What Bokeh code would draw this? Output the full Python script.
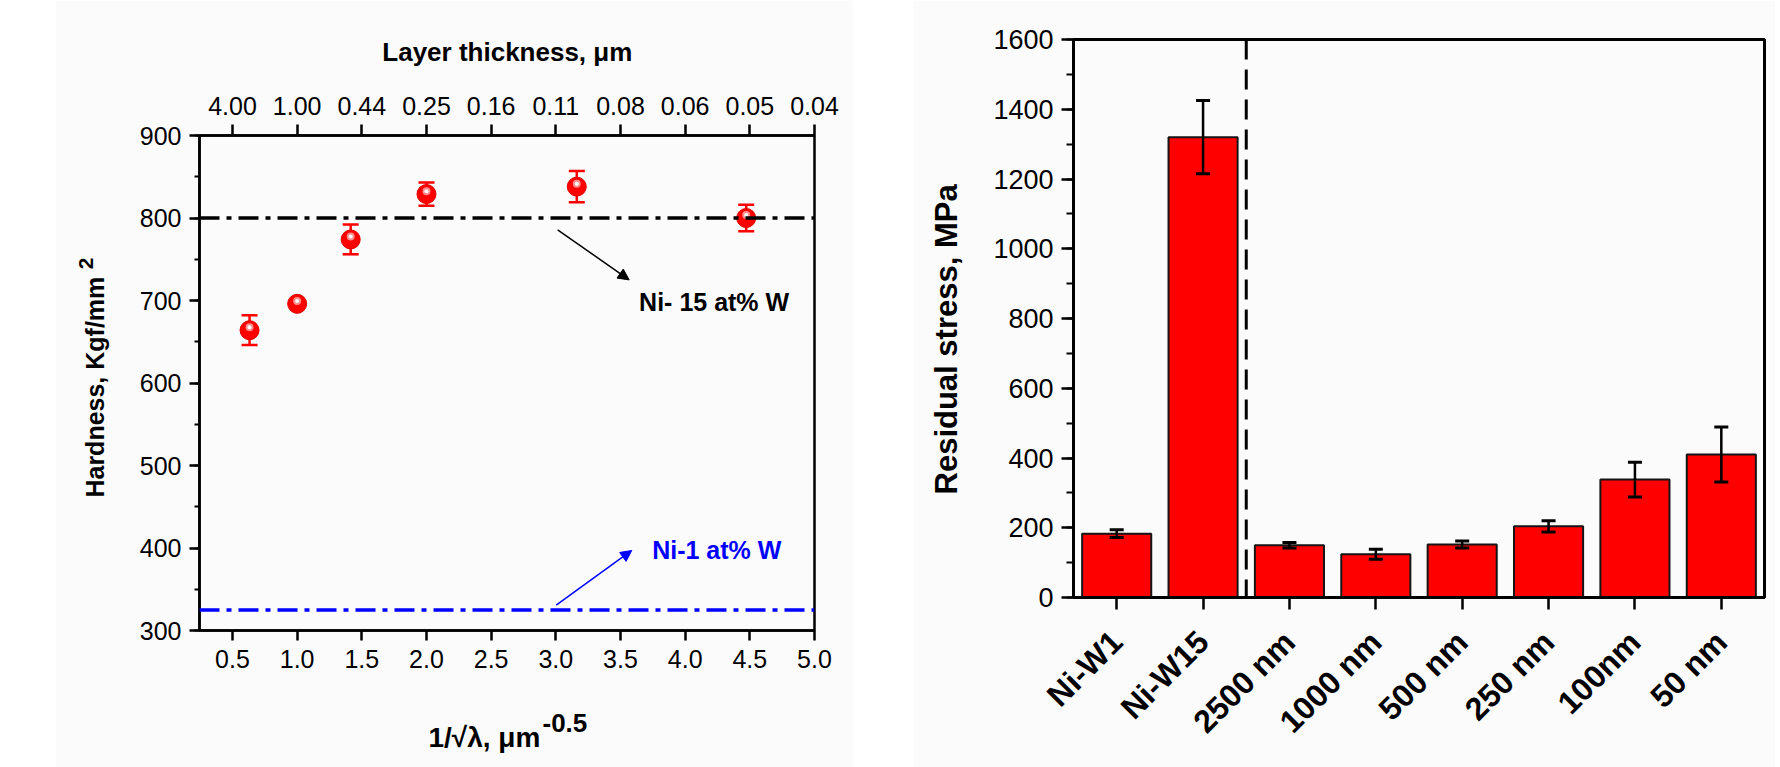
from math import pi
from bokeh.plotting import figure
from bokeh.models import (ColumnDataSource, Range1d, FixedTicker, LinearAxis, Label, Span,
                          Arrow, NormalHead, Whisker, TeeHead, NumeralTickFormatter,
                          SingleIntervalTicker, Spacer)
from bokeh.layouts import row
from bokeh.embed import file_html
from bokeh.resources import INLINE

# ---------------- data: left panel (hardness) ----------------
inv_sqrt_lambda = [0.632, 1.0, 1.414, 2.0, 3.162, 4.472]
hardness = [664, 696, 774, 829, 838, 800]
hardness_err = [18, 3, 18, 14, 19, 16]
ni15_hardness = 800
ni1_hardness = 325
bottom_ticks = [0.5, 1.0, 1.5, 2.0, 2.5, 3.0, 3.5, 4.0, 4.5, 5.0]
top_tick_labels = ["4.00", "1.00", "0.44", "0.25", "0.16", "0.11", "0.08", "0.06", "0.05", "0.04"]

# ---------------- data: right panel (residual stress) ----------------
samples = ["Ni-W1", "Ni-W15", "2500 nm", "1000 nm", "500 nm", "250 nm", "100nm", "50 nm"]
stress = [183, 1320, 150, 124, 152, 204, 338, 410]
stress_err = [11, 105, 8, 14, 10, 16, 50, 79]

FONT = "Liberation Sans"
BG = "#FBFBFB"


def dlabel(text, x, y, size, **kw):
    """Title-like label positioned in data units (kept in a side panel so it is not clipped)."""
    return Label(x=x, y=y, text=text, text_font=FONT, text_font_size=size,
                 text_font_style="bold", text_color="black", **kw)


# ======================= LEFT PANEL =======================
p1 = figure(width=798, height=767, x_range=Range1d(0.245, 5.0), y_range=Range1d(300, 900),
            output_backend="svg", toolbar_location=None, frame_align=False,
            min_border_left=144, min_border_right=39, min_border_top=135, min_border_bottom=137,
            background_fill_color=BG, border_fill_color=BG,
            outline_line_color="black", outline_line_width=2.5)
p1.grid.visible = False

xa = p1.xaxis[0]
xa.ticker = FixedTicker(ticks=bottom_ticks)
xa.formatter = NumeralTickFormatter(format="0.0")
ya = p1.yaxis[0]
ya.ticker = SingleIntervalTicker(interval=100, num_minor_ticks=2)

top_axis = LinearAxis(ticker=FixedTicker(ticks=bottom_ticks),
                      major_label_overrides={t: s for t, s in zip(bottom_ticks, top_tick_labels)})
p1.add_layout(top_axis, "above")

for ax in (xa, ya, top_axis):
    ax.axis_line_width = 2.5
    ax.axis_line_color = "black"
    ax.major_tick_line_width = 2.5
    ax.minor_tick_line_width = 2
    ax.major_tick_in = 0
    ax.minor_tick_in = 0
    ax.major_tick_out = 10
    ax.minor_tick_out = 5
    ax.major_label_text_font = FONT
    ax.major_label_text_font_size = "25px"
    ax.major_label_text_color = "black"
xa.minor_tick_out = 0
top_axis.minor_tick_out = 0
top_axis.major_tick_out = 11
xa.major_label_standoff = 9
top_axis.major_label_standoff = 10
ya.major_label_standoff = 8

# reference lines
p1.add_layout(Span(location=ni15_hardness, dimension="width", line_color="black",
                   line_dash="20 7 5 7", line_width=3.5))
p1.add_layout(Span(location=ni1_hardness, dimension="width", line_color="#0000FF",
                   line_dash="20 7 5 7", line_width=3.5))

src1 = ColumnDataSource(dict(
    x=inv_sqrt_lambda, y=hardness,
    upper=[h + e for h, e in zip(hardness, hardness_err)],
    lower=[h - e for h, e in zip(hardness, hardness_err)],
    hy=[h + 3.5 for h in hardness],
))
w1 = Whisker(source=src1, base="x", upper="upper", lower="lower", dimension="height",
             line_color="#FF0000", line_width=2.5, level="underlay",
             upper_head=TeeHead(size=16, line_color="#FF0000", line_width=2.5),
             lower_head=TeeHead(size=16, line_color="#FF0000", line_width=2.5))
p1.add_layout(w1)
p1.scatter("x", "y", source=src1, size=19, fill_color="#FF0000", line_color="#E00000", line_width=1)
p1.scatter("x", "hy", source=src1, size=8, fill_color="#FF8C8C", line_color=None)
p1.scatter("x", "hy", source=src1, size=4, fill_color="#FFFFFF", line_color=None)

# annotations
p1.add_layout(Arrow(x_start=3.014, y_start=785.7, x_end=3.567, y_end=725,
                    line_color="black", line_width=1.5,
                    end=NormalHead(size=11, fill_color="black", line_color="black")))
p1.add_layout(Arrow(x_start=3.003, y_start=330.7, x_end=3.587, y_end=397,
                    line_color="#0000FF", line_width=1.5,
                    end=NormalHead(size=11, fill_color="#0000FF", line_color="#0000FF")))
p1.add_layout(Label(x=3.644, y=697.9, text="Ni- 15 at% W", text_font=FONT, text_font_size="25px",
                    text_font_style="bold", text_color="black", text_baseline="alphabetic"))
p1.add_layout(Label(x=3.745, y=397, text="Ni-1 at% W", text_font=FONT, text_font_size="25px",
                    text_font_style="bold", text_color="#0000FF", text_baseline="alphabetic"))

# axis titles (data-positioned, placed in side panels so they are drawn outside the frame)
p1.add_layout(dlabel("Layer thickness, μm", 2.625, 1001, "26px",
                     text_align="center", text_baseline="alphabetic"), "above")
p1.add_layout(dlabel("1/√λ, μm", 2.88, 170.7, "28px",
                     text_align="right", text_baseline="alphabetic"), "below")
p1.add_layout(dlabel("-0.5", 2.897, 187.3, "26px",
                     text_align="left", text_baseline="alphabetic"), "below")
p1.add_layout(dlabel("Hardness, Kgf/mm", -0.56, 595, "25px", angle=pi / 2,
                     text_align="center", text_baseline="middle"), "left")
p1.add_layout(dlabel("2", -0.635, 738, "21px", angle=pi / 2,
                     text_align="left", text_baseline="middle"), "left")

# ======================= RIGHT PANEL =======================
xs = [i + 0.5 for i in range(len(samples))]
p2 = figure(width=862, height=767, x_range=Range1d(0, len(samples)), y_range=Range1d(0, 1600),
            output_backend="svg", toolbar_location=None, frame_align=False,
            min_border_left=160, min_border_right=11, min_border_top=39, min_border_bottom=170,
            background_fill_color=BG, border_fill_color=BG,
            outline_line_color="black", outline_line_width=3)
p2.grid.visible = False

src2 = ColumnDataSource(dict(
    x=xs, top=stress,
    upper=[s + e for s, e in zip(stress, stress_err)],
    lower=[s - e for s, e in zip(stress, stress_err)],
))
p2.vbar(x="x", top="top", bottom=0, width=0.8, source=src2,
        fill_color="#FF0000", line_color="#151515", line_width=2)
p2.add_layout(Whisker(source=src2, base="x", upper="upper", lower="lower", dimension="height",
                      line_color="black", line_width=2.5, level="annotation",
                      upper_head=TeeHead(size=14, line_color="black", line_width=3),
                      lower_head=TeeHead(size=14, line_color="black", line_width=3)))
p2.add_layout(Span(location=2, dimension="height", line_color="black",
                   line_dash="20 10", line_width=3))

xb = p2.xaxis[0]
xb.ticker = FixedTicker(ticks=xs)
xb.major_label_overrides = {x: s for x, s in zip(xs, samples)}
xb.major_label_orientation = pi / 4
xb.major_label_text_font_size = "32px"
xb.major_label_text_font_style = "bold"
xb.major_label_standoff = 27
xb.minor_tick_out = 0
yb = p2.yaxis[0]
yb.ticker = SingleIntervalTicker(interval=200, num_minor_ticks=2)
yb.major_label_text_font_size = "27px"
yb.major_label_standoff = 8
yb.minor_tick_out = 7
for ax in (xb, yb):
    ax.axis_line_width = 3
    ax.axis_line_color = "black"
    ax.major_tick_line_width = 2.5
    ax.minor_tick_line_width = 2
    ax.major_tick_in = 0
    ax.minor_tick_in = 0
    ax.major_tick_out = 12
    ax.major_label_text_font = FONT
    ax.major_label_text_color = "black"

p2.add_layout(dlabel("Residual stress, MPa", -1.466, 740, "31px", angle=pi / 2,
                     text_align="center", text_baseline="middle"), "left")

layout = row(Spacer(width=55, height=767), p1, Spacer(width=60, height=767), p2,
             Spacer(width=5, height=767))

open("out.html", "w").write(file_html(layout, INLINE))
